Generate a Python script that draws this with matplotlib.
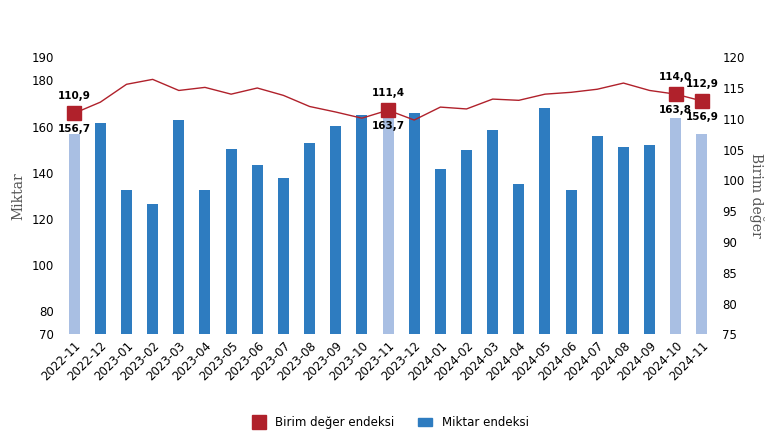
import matplotlib
matplotlib.use("Agg")
import matplotlib.pyplot as plt
from matplotlib.lines import Line2D
from matplotlib.patches import Patch

months = ["2022-11","2022-12","2023-01","2023-02","2023-03","2023-04","2023-05","2023-06","2023-07","2023-08","2023-09","2023-10","2023-11","2023-12","2024-01","2024-02","2024-03","2024-04","2024-05","2024-06","2024-07","2024-08","2024-09","2024-10","2024-11"]
miktar = [156.7,161.3,132.6,126.5,162.6,132.6,150.4,143.5,137.8,153.0,160.4,164.8,163.7,166.0,141.7,150.0,158.7,135.2,167.8,132.6,155.7,151.3,152.2,163.8,156.9]
birim = [110.9,112.7,115.6,116.4,114.6,115.1,114.0,115.0,113.8,112.0,111.1,110.1,111.4,109.8,111.9,111.6,113.2,113.0,114.0,114.3,114.8,115.8,114.6,114.0,112.9]
highlight = [0, 12, 23, 24]
left_ticks = [70, 80, 100, 120, 140, 160, 180, 190]
right_ticks = [75, 80, 85, 90, 95, 100, 105, 110, 115, 120]

fig = plt.figure(figsize=(7.8, 4.4), dpi=100)
ax = fig.add_axes([0.075, 0.24, 0.845, 0.63])
x = list(range(len(months)))
colors = ["#a9bfe3" if i in highlight else "#2e7cc0" for i in x]
ax.bar(x, [m - 70 for m in miktar], bottom=70, width=0.42, color=colors)
ax.set_ylim(70, 190)
ax.set_yticks(left_ticks)
ax.set_xlim(-0.6, len(months) - 0.4)
ax.set_xticks(x)
ax.set_xticklabels(months, rotation=45, ha="right", rotation_mode="anchor", fontsize=8)
ax.set_ylabel("Miktar", fontfamily="DejaVu Serif", color="#555555", fontsize=10)
ax.tick_params(labelsize=8.5, length=0)

ax2 = ax.twinx()
ax2.plot(x, birim, color="#b0212b", lw=1.0)
ax2.plot(highlight, [birim[i] for i in highlight], "s", color="#b0212b", ms=10, lw=0)
ax2.set_ylim(75, 120)
ax2.set_yticks(right_ticks)
ax2.set_ylabel("Birim değer", rotation=270, labelpad=14, fontfamily="DejaVu Serif", color="#555555", fontsize=10)
ax2.tick_params(labelsize=8.5, length=0)
for a in (ax, ax2):
    for s in a.spines.values():
        s.set_visible(False)

for i in highlight:
    ax2.annotate(f"{birim[i]:.1f}".replace(".", ","), (i, birim[i]), xytext=(0, 10), textcoords="offset points", ha="center", fontsize=7.5, fontweight="bold")
    ax2.annotate(f"{miktar[i]:.1f}".replace(".", ","), (i, birim[i]), xytext=(0, -8), textcoords="offset points", ha="center", va="top", fontsize=7.5, fontweight="bold")

handles = [Line2D([], [], marker="s", ls="", color="#b0212b", ms=10), Patch(color="#2e7cc0")]
fig.legend(handles, ["Birim değer endeksi", "Miktar endeksi"], loc="lower center", ncol=2, frameon=False, fontsize=8.5, bbox_to_anchor=(0.5, 0.0), handlelength=1.2)
fig.savefig("out.png")
